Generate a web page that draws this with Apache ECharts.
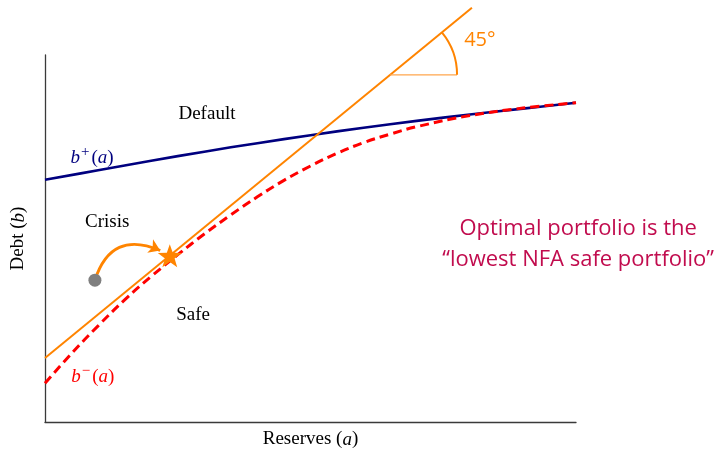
<!DOCTYPE html>
<html>
<head>
<meta charset="utf-8">
<script src="https://cdn.jsdelivr.net/npm/echarts@6/dist/echarts.min.js"></script>
<style>
  html, body { margin: 0; padding: 0; background: #fff; }
  #chart { width: 723px; height: 449px; }
</style>
</head>
<body>
<div id="chart"></div>
<script>
// Upper debt threshold b+(a)
const upperA = [0, 10, 20, 30, 40, 50, 60, 70, 80, 90, 100];
const upperB = [45.6, 47.4, 49.2, 50.9, 52.5, 54.0, 55.4, 56.7, 57.9, 59.0, 60.1];

// Lower debt threshold b-(a)
const lowerA = [0, 5, 10, 15, 20, 25, 30, 35, 40, 45, 50, 55, 60, 65, 70, 80, 90, 100];
const lowerB = [7.3, 12.9, 18.1, 23.0, 27.4, 31.5, 35.4, 39.0, 42.4, 45.5, 48.2, 50.6, 52.6, 54.2, 55.6, 57.7, 59.1, 60.1];

// The 45-degree line (endpoints)
const diagA = [0, 80.4];
const diagB = [12.05, 78.0];

// Starting portfolio, and the optimal (lowest NFA safe) portfolio
const startPoint = [9.4, 26.7];
const arrowTip = [21.7, 32.3];
const optimalPoint = [23.5, 31.3];

// Angle marker on the 45-degree line
const angleA = 65.0;
const angleRadius = 12.6;

// Text
const regionLabels = ['Default', 'Crisis', 'Safe'];
const angleText = '45°';
const noteLines = ['Optimal portfolio is the', '“lowest NFA safe portfolio”'];

const ORANGE = '#ff8400';
const NAVY = '#00007f';
const RED = '#ff0000';
const NOTE = '#c10c4e';
const SERIF = '"Liberation Serif", "DejaVu Serif", serif';
const SANS = '"Open Sans", "Noto Sans", sans-serif';

const zip = (xs, ys) => xs.map((x, i) => [x, ys[i]]);
const diagAt = a => diagB[0] + (a - diagA[0]) * (diagB[1] - diagB[0]) / (diagA[1] - diagA[0]);
const angleB = diagAt(angleA);

const mathRich = {
  r: { fontFamily: SERIF, fontSize: 19 },
  i: { fontFamily: SERIF, fontSize: 19, fontStyle: 'italic' },
  sup: { fontFamily: SERIF, fontSize: 15, padding: [0, 2, 11, 1] }
};

const chart = echarts.init(document.getElementById('chart'), null, { renderer: 'canvas' });

const textItems = [
  { value: [30.5, 58.0], name: regionLabels[0] },
  { value: [11.7, 37.7], name: regionLabels[1] },
  { value: [27.9, 20.2], name: regionLabels[2] },
  { value: [8.85, 49.7], name: '{i|b}{sup|+}{r|(}{i|a}{r|)}', label: { color: NAVY } },
  { value: [9.0, 8.5], name: '{i|b}{sup|−}{r|(}{i|a}{r|)}', label: { color: RED } },
  { value: [81.9, 71.9], name: angleText,
    label: { color: ORANGE, fontFamily: SANS, fontSize: 20 } },
  { value: [100.4, 33.5], name: noteLines.join('\n'),
    label: { color: NOTE, fontFamily: SANS, fontSize: 22, lineHeight: 31 } }
];

chart.setOption({
  animation: false,
  backgroundColor: '#fff',
  grid: { left: 45, right: 147, top: 55, bottom: 27, outerBoundsMode: 'none', containLabel: false },
  xAxis: {
    type: 'value', min: 0, max: 100,
    axisLine: { show: true, lineStyle: { color: '#3a3a3a', width: 1.3 } },
    axisTick: { show: false }, axisLabel: { show: false }, splitLine: { show: false },
    name: '{r|Reserves (}{i|a}{r|)}',
    nameLocation: 'middle', nameGap: 8,
    nameTextStyle: { color: '#000', rich: mathRich, verticalAlign: 'top' }
  },
  yAxis: {
    type: 'value', min: 0, max: 69.1,
    axisLine: { show: true, lineStyle: { color: '#3a3a3a', width: 1.3 } },
    axisTick: { show: false }, axisLabel: { show: false }, splitLine: { show: false },
    name: '{r|Debt (}{i|b}{r|)}',
    nameLocation: 'middle', nameGap: 17,
    nameTextStyle: { color: '#000', rich: mathRich }
  },
  series: [
    {
      name: 'b+', type: 'line', data: zip(upperA, upperB), smooth: 0.4,
      showSymbol: false, lineStyle: { color: NAVY, width: 2.6 }, z: 2
    },
    {
      name: 'b-', type: 'line', data: zip(lowerA, lowerB), smooth: 0.4,
      showSymbol: false, lineStyle: { color: RED, width: 3, type: [9, 5] }, z: 3
    },
    {
      name: 'diagonal', type: 'line', data: zip(diagA, diagB), clip: false,
      showSymbol: false, lineStyle: { color: ORANGE, width: 2 }, z: 4
    },
    {
      name: 'angle base', type: 'line',
      data: [[angleA, angleB], [angleA + angleRadius, angleB]], clip: false,
      showSymbol: false, lineStyle: { color: '#ffa64d', width: 1.3 }, z: 4
    },
    {
      name: 'move', type: 'lines', coordinateSystem: 'cartesian2d', z: 5,
      symbol: ['none', 'arrow'], symbolSize: 11,
      lineStyle: { color: ORANGE, width: 2.8, curveness: 0.55, opacity: 1 },
      data: [{ coords: [startPoint, arrowTip] }]
    },
    {
      name: 'start', type: 'scatter', data: [startPoint], symbol: 'circle', symbolSize: 13,
      itemStyle: { color: '#7f7f7f', opacity: 1 }, z: 6
    },
    {
      name: 'optimal', type: 'scatter', data: [optimalPoint], z: 7,
      symbol: 'path://M0,-10L2.35,-3.24L9.51,-3.09L3.8,1.24L5.88,8.09L0,4L-5.88,8.09L-3.8,1.24L-9.51,-3.09L-2.35,-3.24Z',
      symbolSize: [24, 23], itemStyle: { color: ORANGE, opacity: 1 }
    },
    {
      name: 'text', type: 'scatter', data: textItems, symbolSize: 0, clip: false, z: 8,
      itemStyle: { opacity: 1 },
      label: {
        show: true, position: 'inside', formatter: p => p.name,
        color: '#000', fontFamily: SERIF, fontSize: 19, align: 'center', verticalAlign: 'middle',
        rich: mathRich
      }
    }
  ]
});

// Arc marking the angle of the diagonal
function drawAngleArc() {
  const c = chart.convertToPixel({ gridIndex: 0 }, [angleA, angleB]);
  const e = chart.convertToPixel({ gridIndex: 0 }, [angleA + angleRadius, angleB]);
  const far = chart.convertToPixel({ gridIndex: 0 }, [diagA[1], diagB[1]]);
  const r = e[0] - c[0];
  const ang = Math.atan2(far[1] - c[1], far[0] - c[0]);
  chart.setOption({
    graphic: [{
      type: 'arc', z: 10,
      shape: { cx: c[0], cy: c[1], r: r, startAngle: ang, endAngle: 0, clockwise: true },
      style: { stroke: ORANGE, lineWidth: 2, fill: null }
    }]
  });
}
drawAngleArc();
</script>
</body>
</html>
